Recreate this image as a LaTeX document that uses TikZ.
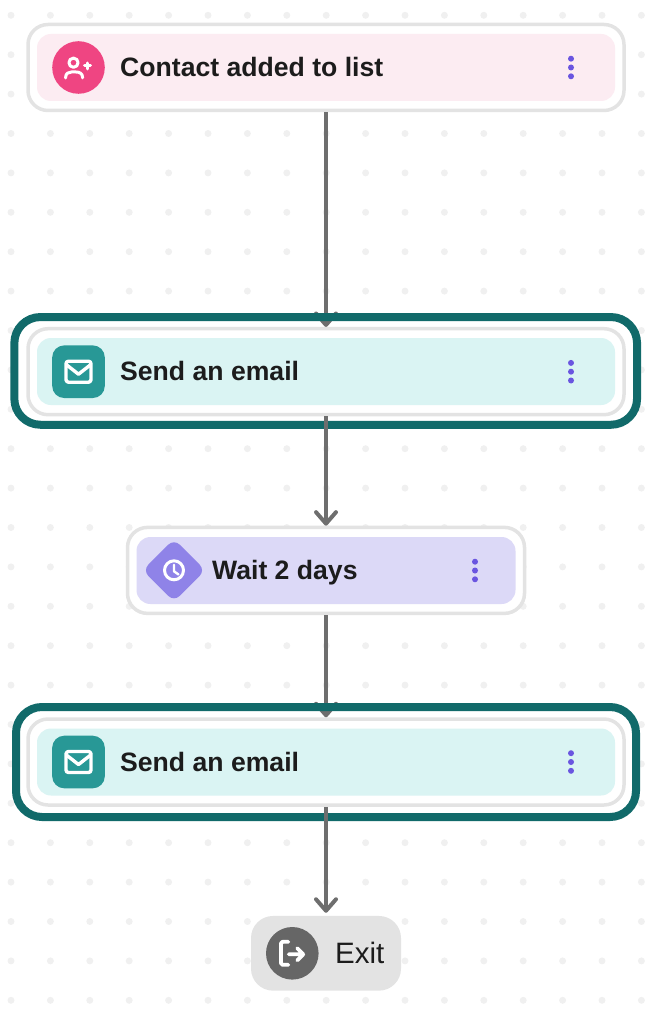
\documentclass[tikz,border=0pt]{standalone}
\usepackage{fontspec}
\setmainfont{Liberation Sans}
\usepackage{xcolor}
\usetikzlibrary{arrows.meta}

\definecolor{dotgray}{HTML}{F0F0F0}
\definecolor{edgegray}{HTML}{E3E3E3}
\definecolor{linegray}{HTML}{6E6E6E}
\definecolor{inkblack}{HTML}{1C1C1C}
\definecolor{kebabblue}{HTML}{6A55E0}
\definecolor{pinkbar}{HTML}{FCECF2}
\definecolor{pinkicon}{HTML}{EF4582}
\definecolor{tealbar}{HTML}{DAF4F3}
\definecolor{tealicon}{HTML}{289896}
\definecolor{tealframe}{HTML}{116A6A}
\definecolor{lilacbar}{HTML}{DCD9F7}
\definecolor{lilacicon}{HTML}{8F83E8}
\definecolor{exitgray}{HTML}{666666}

\tikzset{
    cardbox/.style={draw=edgegray,line width=3.5pt,fill=white,rounded corners=20pt,minimum height=86pt},
    cardbar/.style={rounded corners=14pt,minimum height=67pt},
    selectframe/.style={draw=tealframe,line width=8pt,rounded corners=26pt},
    cardtext/.style={anchor=base west,inner sep=0pt,text=inkblack,font=\fontsize{26.6}{30}\selectfont\bfseries},
    flow/.style={draw=linegray,line width=4pt,-{Straight Barb[round,length=11.5pt,width=20pt]}},
    glyph/.style={draw=white,line width=3.4pt,line cap=round,line join=round},
}

% Three dots on the right of a card
\newcommand{\kebab}[2]{
    \fill[kebabblue] (#1,#2-8.8) circle (3pt);
    \fill[kebabblue] (#1,#2) circle (3pt);
    \fill[kebabblue] (#1,#2+8.8) circle (3pt);
}
% Envelope inside the teal icon
\newcommand{\mailglyph}[1]{
    \begin{scope}[shift={(#1.center)}]
        \draw[glyph,rounded corners=2.5pt] (-12.5,-10.5) rectangle (12.5,10.5);
        \draw[glyph] (-11.5,-6.5) -- (0,2.5) -- (11.5,-6.5);
    \end{scope}
}

\begin{document}
\begin{tikzpicture}[x=1pt,y=-1pt]
    \useasboundingbox (0,0) rectangle (654,1016);

    % Dot grid
    \foreach \i in {0,...,16}
        \foreach \j in {0,...,25}
            \fill[dotgray] ({11+39.4*\i},{15.3+39.4*\j}) circle (3.5pt);

    % Contact card
    \node[cardbox,minimum width=596pt] (contact) at (326,67.5) {};
    \node[cardbar,fill=pinkbar,minimum width=578pt] (contactbar) at (326,67.5) {};
    \node[circle,fill=pinkicon,minimum size=52.6pt,inner sep=0pt] (contacticon) at (78.5,67.5) {};
    \node[cardtext] (contacttext) at (120,77) {Contact added to list};
    \kebab{571}{67.5}
    \begin{scope}[shift={(contacticon.center)}]
        \draw[glyph,line width=3pt] (-5,-4.8) circle (4.6pt);
        \draw[glyph,line width=3pt] (-12.8,10.5) -- (-12.8,9.5) .. controls (-12.8,6) and (-10,4.5) .. (-7,4.5) -- (-2.5,4.5) .. controls (1,4.5) and (4,6) .. (4,9.5) -- (4,10.5);
        \draw[glyph,line width=3pt] (6,-1.5) -- (12,-1.5) (9,-4.5) -- (9,1.5);
    \end{scope}

    % First mail card
    \node[cardbox,minimum width=596pt] (mailone) at (326,371.7) {};
    \node[cardbar,fill=tealbar,minimum width=578pt] (mailonebar) at (326,371.5) {};
    \node[fill=tealicon,minimum size=52.6pt,inner sep=0pt,rounded corners=12pt] (mailoneicon) at (78.5,371.7) {};
    \node[cardtext] (mailonetext) at (120,380.7) {Send an email};
    \kebab{571}{371.7}
    \mailglyph{mailoneicon}

    % Wait card
    \node[cardbox,minimum width=397pt] (wait) at (326,570.4) {};
    \node[cardbar,fill=lilacbar,minimum width=379pt] (waitbar) at (326,570.5) {};
    \node[rotate=45,fill=lilacicon,minimum size=44.3pt,inner sep=0pt,rounded corners=8pt] (waiticon) at (174,570.3) {};
    \node[cardtext] (waittext) at (212,579.5) {Wait 2 days};
    \kebab{475}{570.5}
    \begin{scope}[shift={(waiticon.center)}]
        \draw[glyph,line width=3pt] (0,0) circle (9.5pt);
        \draw[glyph,line width=2.4pt] (0,-5.5) -- (0,1) -- (4.5,4.2);
    \end{scope}

    % Second mail card
    \node[cardbox,minimum width=596pt] (mailtwo) at (326,762) {};
    \node[cardbar,fill=tealbar,minimum width=578pt] (mailtwobar) at (326,762) {};
    \node[fill=tealicon,minimum size=52.6pt,inner sep=0pt,rounded corners=12pt] (mailtwoicon) at (78.5,762) {};
    \node[cardtext] (mailtwotext) at (120,771) {Send an email};
    \kebab{571}{762}
    \mailglyph{mailtwoicon}

    % Exit
    \node[fill=edgegray,minimum width=150pt,minimum height=74.7pt,rounded corners=22pt] (exit) at (326,953.3) {};
    \node[circle,fill=exitgray,minimum size=52.6pt,inner sep=0pt] (exiticon) at (292.3,953.3) {};
    \node[cardtext,font=\fontsize{29.5}{32}\selectfont] (exittext) at (335,963.3) {Exit};
    \begin{scope}[shift={(exiticon.center)}]
        \draw[glyph,line width=3.8pt,rounded corners=1.5pt] (-4,-11.5) -- (-11.3,-11.5) -- (-11.3,11.5) -- (-4,11.5);
        \draw[glyph,line width=3.8pt] (-3.5,1) -- (11,1) (5,-5) -- (11,1) -- (5,7);
    \end{scope}

    % Arrows and frames, in this order: frames hide what comes in, not what goes out
    \draw[flow] (contact.south) -- (mailone.north);
    \node[selectframe,minimum width=622.7pt,minimum height=107.7pt] (mailoneframe) at (325.7,370.9) {};
    \draw[flow] (mailone.south) -- (wait.north);
    \draw[flow] (wait.south) -- (mailtwo.north);
    \node[selectframe,minimum width=620pt,minimum height=110pt] (mailtwoframe) at (326,762) {};
    \draw[flow,shorten >=3pt] (mailtwo.south) -- (exit.north);
\end{tikzpicture}
\end{document}
